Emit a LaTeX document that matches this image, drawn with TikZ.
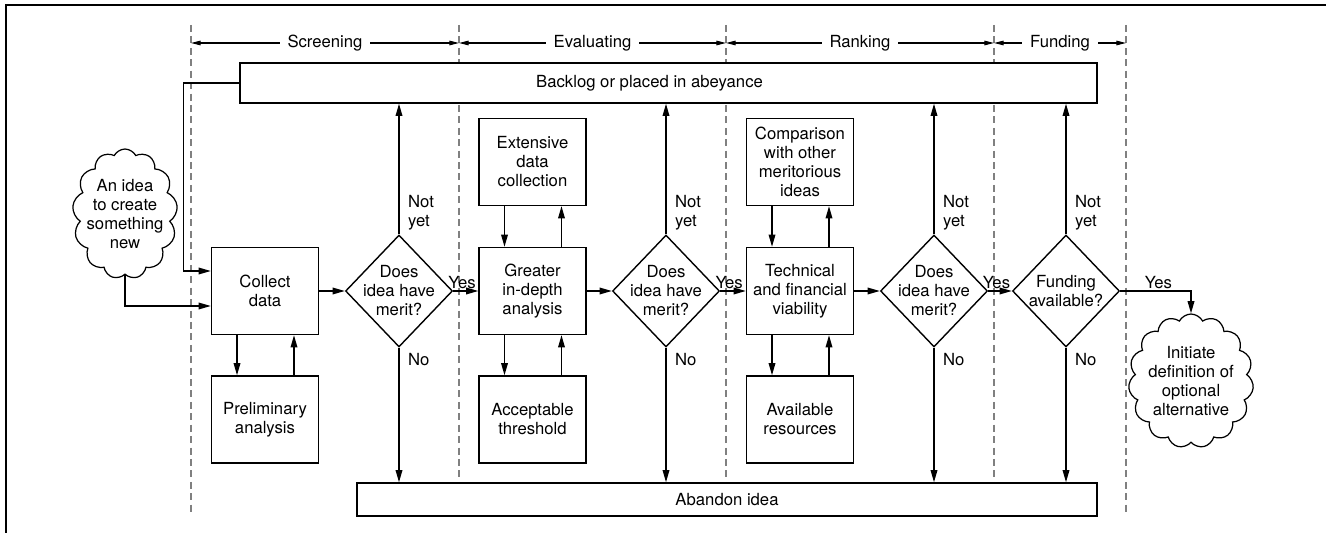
\documentclass[tikz,border=0pt]{standalone}
\usepackage{fontspec}
\setmainfont{TeX Gyre Heros}
\usepackage{tikz}
\usetikzlibrary{arrows.meta,positioning,shapes.geometric,shapes.symbols}
\tikzstyle{arrow} = [line width=0.8pt,-{Triangle[length=7pt,width=3.8pt]}]
\tikzstyle{span} = [line width=0.6pt,{Triangle[length=5.5pt,width=2.6pt]}-{Triangle[length=5.5pt,width=2.6pt]}]
\tikzstyle{lane} = [gray, line width=0.6pt, dash pattern=on 4pt off 2.5pt]
\tikzstyle{block} = [draw, line width=0.8pt, fill=white, minimum width=2.14cm, minimum height=1.74cm, align=center, inner sep=0pt]
\tikzstyle{bar} = [draw, line width=0.8pt, fill=white, inner sep=0pt]
\tikzstyle{decision} = [draw, diamond, aspect=1, line width=0.8pt, fill=white, minimum width=2.14cm, minimum height=2.24cm, inner sep=-8pt, align=center]
\tikzstyle{idea} = [draw, cloud, cloud ignores aspect, cloud puffs=13, cloud puff arc=125, line width=0.7pt, align=center, inner sep=-6pt]
\tikzstyle{tag} = [inner sep=1pt, align=left]

\begin{document}
\begin{tikzpicture}[x=0.02cm, y=-0.02cm, font=\fontsize{9.5}{10.8}\selectfont]
\useasboundingbox (0,0) rectangle (1326,533);
\draw[line width=1.4pt] (6,533) -- (6,5) -- (1326,5);

% phases
\foreach \x [count=\i from 0] in {191,459,726,994,1126}{
    \draw[lane] (\x,25) -- (\x,512);
    \coordinate (p\i) at (\x,43);
}
\draw[span] (p0) -- node[fill=white, inner xsep=4.5pt] (ph1) {Screening} (p1);
\draw[span] (p1) -- node[fill=white, inner xsep=4.5pt] (ph2) {Evaluating} (p2);
\draw[span] (p2) -- node[fill=white, inner xsep=4.5pt] (ph3) {Ranking} (p3);
\draw[span] (p3) -- node[fill=white, inner xsep=4.5pt] (ph4) {Funding} (p4);

\node[bar, minimum width=17.14cm, minimum height=0.8cm] (backlog) at (668.5,83) {Backlog or placed in abeyance\hspace*{0.76cm}};
\node[bar, minimum width=14.8cm, minimum height=0.66cm] (abandon) at (727,499.5) {Abandon idea};

\node[idea, minimum width=2.1cm, minimum height=2.6cm] (start) at (125,214) {An idea\\to create\\something\\new};
\node[idea, cloud puffs=15, minimum width=2.5cm, minimum height=2.68cm] (goal) at (1191,381) {Initiate\\definition of\\optional\\alternative};

\node[block] (collect) at (265,291) {Collect\\data};
\node[block] (prelim) at (265,419.5) {Preliminary\\analysis};
\node[block] (extensive) at (532.5,162) {Extensive\\data\\collection};
\node[block] (greater) at (532.5,291) {Greater\\in-depth\\analysis};
\node[block] (accept) at (532.5,419.5) {Acceptable\\threshold};
\node[block] (comparison) at (800,162) {Comparison\\with other\\meritorious\\ideas};
\node[block] (technical) at (800,291) {Technical\\and financial\\viability};
\node[block] (avail) at (800,419.5) {Available\\resources};

\node[decision] (d1) at (399,291) {Does\\idea have\\merit?};
\node[decision] (d2) at (666,291) {Does\\idea have\\merit?};
\node[decision] (d3) at (934,291) {Does\\idea have\\merit?};
\node[decision] (d4) at (1066,291) {Funding\\available?};

\draw[arrow] (start.south) |- ([yshift=-0.3cm]collect.west);
\draw[arrow] (backlog.west) -- ++(-56,0) |- ([yshift=0.4cm]collect.west);

\foreach \top/\bot in {collect/prelim, extensive/greater, greater/accept, comparison/technical, technical/avail}{
    \draw[arrow] ([xshift=-0.56cm]\top.south) -- ([xshift=-0.56cm]\bot.north);
    \draw[arrow] ([xshift=0.58cm]\bot.north) -- ([xshift=0.58cm]\top.south);
}

\draw[arrow] (collect.east) -- (d1.west);
\draw[arrow] (d1.east) -- node[tag, above, pos=0.35] (y1) {Yes} (greater.west);
\draw[arrow] (greater.east) -- (d2.west);
\draw[arrow] (d2.east) -- node[tag, above, pos=0.35] (y2) {Yes} (technical.west);
\draw[arrow] (technical.east) -- (d3.west);
\draw[arrow] (d3.east) -- node[tag, above, pos=0.35] (y3) {Yes} (d4.west);
\draw[arrow] (d4.east) -| node[tag, above, pos=0.27] (y4) {Yes} (goal.north);

\foreach \d in {d1,d2,d3,d4}{
    \draw[arrow] (\d.north) -- (\d.north |- backlog.south);
    \node[tag, anchor=south west] (nt-\d) at ([xshift=0.14cm, yshift=1pt]\d.north) {Not\\yet};
    \draw[arrow] (\d.south) -- (\d.south |- abandon.north);
    \node[tag, anchor=north west] (no-\d) at ([xshift=0.14cm, yshift=-0.08cm]\d.south) {No};
}
\end{tikzpicture}
\end{document}
